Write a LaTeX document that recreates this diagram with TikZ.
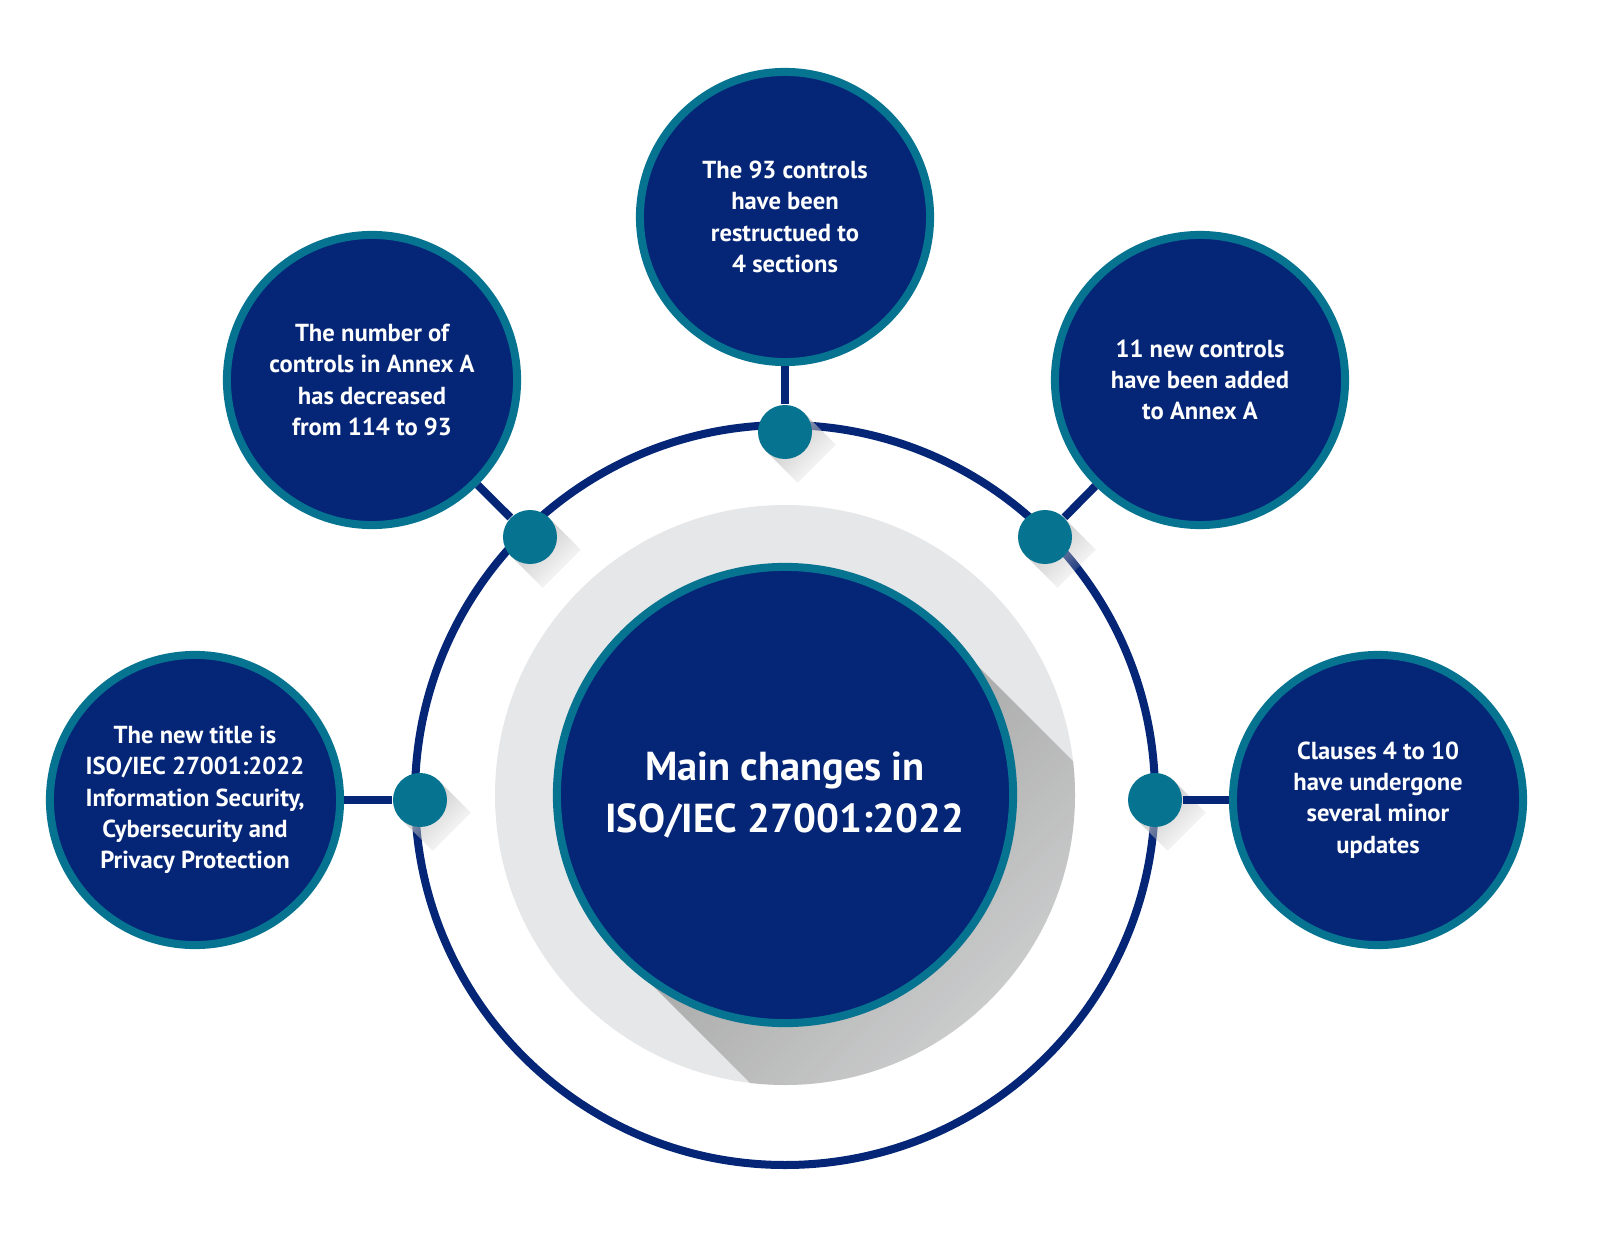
\documentclass[tikz,border=0pt]{standalone}
\usepackage{fontspec}
\setmainfont{PT Sans}
\usetikzlibrary{fadings,calc}
\definecolor{navy}{HTML}{052677}
\definecolor{teal}{HTML}{067490}
\definecolor{lgray}{HTML}{E6E7E8}
\tikzset{
  sat/.style={circle,minimum size=2.9cm,fill=navy,draw=teal,line width=0.08cm,text=white,font=\fontsize{7}{8.9}\selectfont\bfseries,align=center,inner sep=0},
  dot/.style={circle,minimum size=0.54cm,fill=teal,inner sep=0},
  conn/.style={navy,line width=0.08cm},
}
\begin{document}
\begin{tikzpicture}[x=0.01cm,y=-0.01cm]
\useasboundingbox (0,0) rectangle (1600,1258);
\fill[lgray] (785,795) circle (290);
\begin{scope}
\clip (785,795) circle (290);
\fill[black!40,path fading=east,fading angle=-45] ($(785,795)+(-45:228)$) -- ++(45:400) -- ($(785,795)+(135:228)+(45:400)$) -- ($(785,795)+(135:228)$) -- cycle;
\end{scope}
\draw[conn] (785,795) circle (370);
\node[circle,minimum size=4.56cm,fill=navy,draw=teal,line width=0.08cm,text=white,font=\fontsize{11.5}{15}\selectfont\bfseries,align=center,inner sep=0] (c) at (785,795) {Main changes in\\ISO/IEC 27001:2022};
\node[sat] (s1) at (785,217) {The 93 controls\\have been\\restructued to\\4 sections};
\node[sat] (s2) at (372,380) {The number of\\controls in Annex A\\has decreased\\from 114 to 93};
\node[sat] (s3) at (1200,380) {11 new controls\\have been added\\to Annex A};
\node[sat] (s4) at (195,800) {The new title is\\ISO/IEC 27001:2022\\Information Security,\\Cybersecurity and\\Privacy Protection};
\node[sat] (s5) at (1378,800) {Clauses 4 to 10\\have undergone\\several minor\\updates};
\foreach \n/\x/\y in {d1/785/432,d2/530/537,d3/1045/537,d4/420/800,d5/1155/800}{
  \fill[black!25,path fading=east,fading angle=-45] (\x,\y) ++(-45:27) -- ++(45:45) -- ++(135:54) -- ++(225:45) -- cycle;
  \node[dot] (\n) at (\x,\y) {};
}
\draw[conn] (d1) -- (s1);
\draw[conn] (d2) -- (s2);
\draw[conn] (d3) -- (s3);
\draw[conn] (d4) -- (s4);
\draw[conn] (d5) -- (s5);
\end{tikzpicture}
\end{document}
